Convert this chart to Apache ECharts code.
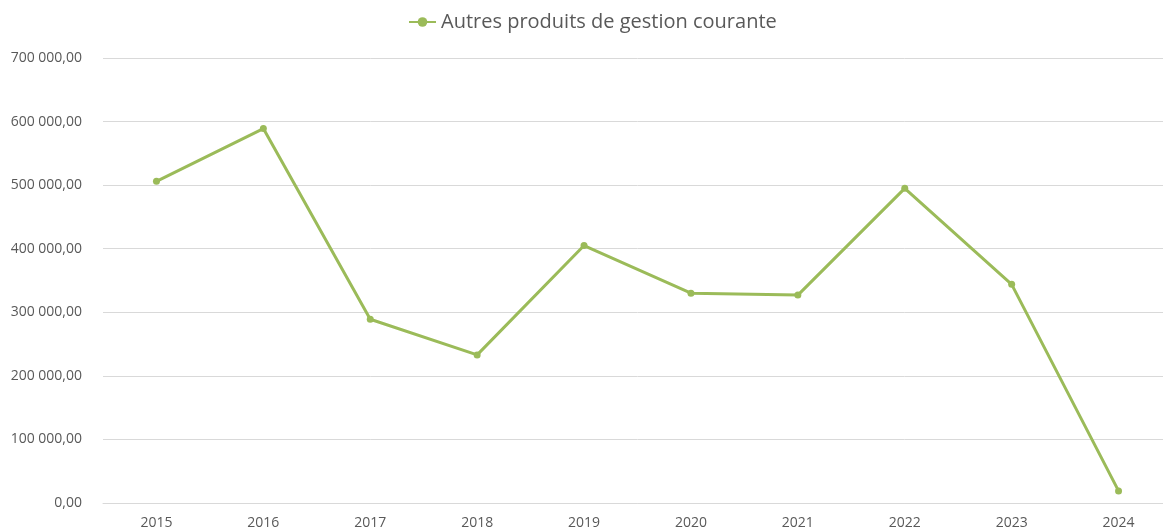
<!DOCTYPE html>
<html>
<head>
<meta charset="utf-8">
<script src="https://cdn.jsdelivr.net/npm/echarts@6/dist/echarts.min.js"></script>
<style>
  html, body { margin: 0; padding: 0; background: #fff; overflow: hidden; }
  /* plot area runs past the right edge of the window in the original */
  #chart { width: 1172px; height: 527px; }
</style>
</head>
<body>
<div id="chart"></div>
<script>
const years = ['2015', '2016', '2017', '2018', '2019', '2020', '2021', '2022', '2023', '2024']
const values = [506000, 589000, 289000, 233000, 405000, 330000, 327000, 495000, 344000, 19000]
const seriesName = 'Autres produits de gestion courante'

// format like "700 000,00"
function frNumber(v) {
  const fixed = Number(v).toFixed(2)
  const parts = fixed.split('.')
  const intPart = parts[0].replace(/\B(?=(\d{3})+(?!\d))/g, ' ')
  return intPart + ',' + parts[1]
}

const chart = echarts.init(document.getElementById('chart'))
chart.setOption({
  animation: false,
  textStyle: { fontFamily: 'Open Sans, sans-serif' },
  legend: {
    top: 7,
    left: 403,
    itemWidth: 27,
    itemHeight: 12,
    textStyle: { fontSize: 20, color: '#595959' },
    data: [seriesName]
  },
  grid: {
    top: 58,
    bottom: 24,
    left: 103,
    right: 0,
    outerBoundsMode: 'none'
  },
  xAxis: {
    type: 'category',
    data: years,
    boundaryGap: true,
    axisLine: { lineStyle: { color: '#d9d9d9' } },
    axisTick: { show: false },
    axisLabel: { color: '#595959', fontSize: 14, margin: 13 }
  },
  yAxis: {
    type: 'value',
    min: 0,
    max: 700000,
    interval: 100000,
    axisLine: { show: false },
    axisTick: { show: false },
    axisLabel: {
      color: '#595959',
      fontSize: 14,
      margin: 21,
      formatter: frNumber
    },
    splitLine: { lineStyle: { color: '#d9d9d9', width: 1 } }
  },
  series: [{
    name: seriesName,
    type: 'line',
    data: values,
    symbol: 'circle',
    symbolSize: 7,
    lineStyle: { color: '#9bbb59', width: 3 },
    itemStyle: { color: '#9bbb59' }
  }]
})
</script>
</body>
</html>
